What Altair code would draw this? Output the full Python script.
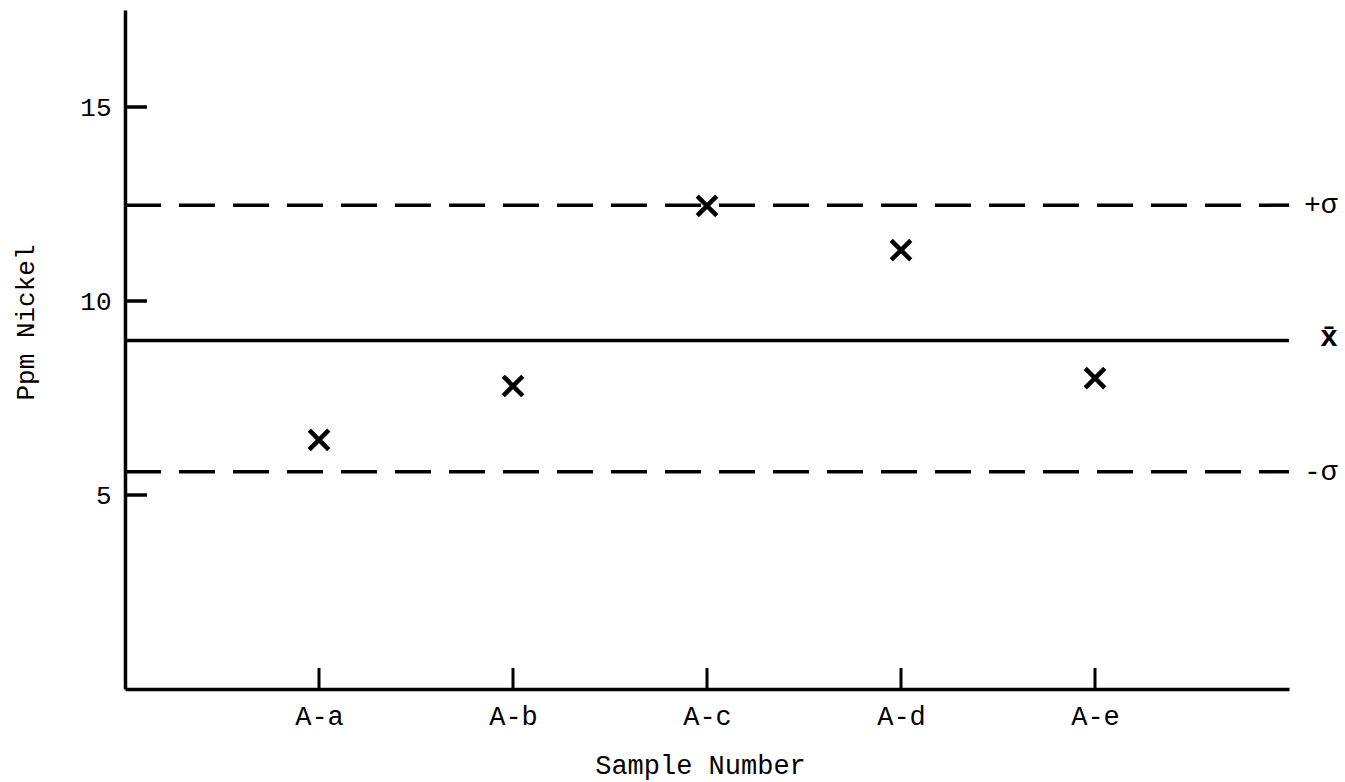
import altair as alt
import pandas as pd

samples = ["A-a", "A-b", "A-c", "A-d", "A-e"]
ppm_nickel = [6.42, 7.81, 12.45, 11.31, 8.01]
y_ticks = [5, 10, 15]
sigma_names = ["+σ", "-σ"]
sigma_values = [12.47, 5.60]
mean_name = ["x̄"]
mean_value = [8.98]

FONT = "Courier New, Liberation Mono, monospace"
W, H = 1164, 679

pts = pd.DataFrame({"sample": samples, "pos": list(range(1, len(samples) + 1)), "ppm": ppm_nickel})
sig = pd.DataFrame({"name": sigma_names, "value": sigma_values})
mean = pd.DataFrame({"name": mean_name, "value": mean_value})
yt = pd.DataFrame({"v": y_ticks})

label_expr = "[''," + ",".join(f"'{s}'" for s in samples) + "][datum.value]"

xscale = alt.Scale(domain=[0, 6], nice=False, zero=False)
yscale = alt.Scale(domain=[0, 17.5], nice=False, zero=False)

xaxis = alt.Axis(
    values=list(range(1, len(samples) + 1)), labelExpr=label_expr, ticks=False,
    grid=False, domainColor="black", domainWidth=3.5, labelFont=FONT, labelFontSize=27,
    labelColor="black", labelPadding=14, title="Sample Number", titleFont=FONT,
    titleFontSize=27, titleFontWeight="normal", titleColor="black",
    titleBaseline="alphabetic", titleY=84, titleX=W / 2 - 7,
)
yaxis = alt.Axis(
    values=y_ticks, ticks=False, grid=False, domainColor="black", domainWidth=3.5,
    labelFont=FONT, labelFontSize=26, labelColor="black", labelPadding=14,
    title="Ppm Nickel", titleFont=FONT, titleFontSize=26, titleFontWeight="normal",
    titleColor="black", titleAngle=270, titleBaseline="alphabetic", titleX=-92, titleY=312,
)

points = alt.Chart(pts).mark_point(
    shape="M-1,-1L1,1M1,-1L-1,1", filled=False, stroke="black", strokeWidth=4.5,
    size=380, opacity=1,
).encode(
    x=alt.X("pos:Q", scale=xscale, axis=xaxis),
    y=alt.Y("ppm:Q", scale=yscale, axis=yaxis),
)

xticks = alt.Chart(pts).mark_rule(color="black", strokeWidth=3).encode(
    x=alt.X("pos:Q", scale=xscale), y=alt.value(H), y2=alt.value(H - 21)
)
yticks = alt.Chart(yt).mark_rule(color="black", strokeWidth=3.5).encode(
    y=alt.Y("v:Q", scale=yscale), x=alt.value(0), x2=alt.value(22)
)

dashed = alt.Chart(sig).mark_rule(
    color="black", strokeWidth=3.5, strokeDash=[36, 18]
).encode(y=alt.Y("value:Q", scale=yscale), x=alt.value(0), x2=alt.value(W))
solid = alt.Chart(mean).mark_rule(color="black", strokeWidth=3.5).encode(
    y=alt.Y("value:Q", scale=yscale), x=alt.value(0), x2=alt.value(W)
)

sig_text = alt.Chart(sig).mark_text(
    align="left", baseline="middle", font=FONT, fontSize=28, color="black"
).encode(y=alt.Y("value:Q", scale=yscale), x=alt.value(W + 15), text="name:N")
mean_text = alt.Chart(mean).mark_text(
    align="left", baseline="middle", font=FONT, fontSize=30, fontWeight="bold",
    color="black", dy=-4,
).encode(y=alt.Y("value:Q", scale=yscale), x=alt.value(W + 31), text="name:N")

chart = alt.layer(dashed, solid, xticks, yticks, points, sig_text, mean_text).properties(
    width=W, height=H, autosize="none", background="white",
    padding={"left": 125, "top": 10, "right": 56, "bottom": 93},
).configure_view(stroke=None)

chart.save("out.html", embed_options={"renderer": "svg", "actions": False})
